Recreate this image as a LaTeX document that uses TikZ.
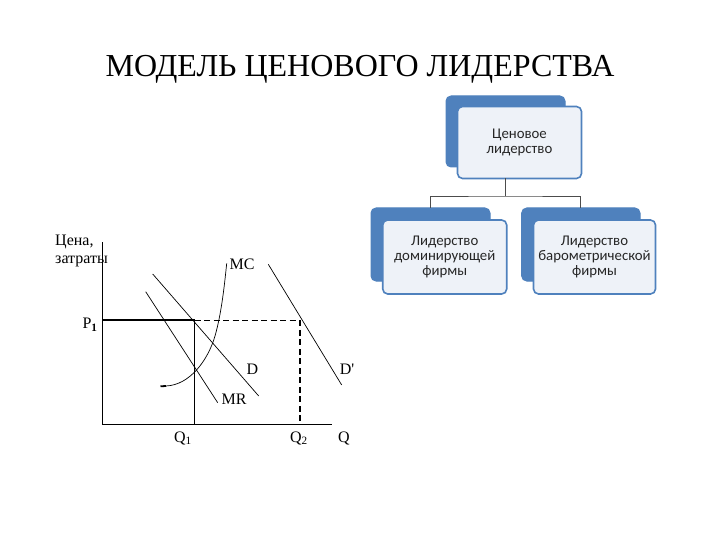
\documentclass[tikz,border=0pt]{standalone}
\usepackage{fontspec}
\setmainfont{Liberation Serif}
\newfontfamily\orgfont{Carlito}
\definecolor{accblue}{HTML}{4F81BD}
\definecolor{boxfill}{HTML}{EEF2F8}
\begin{document}
\begin{tikzpicture}[x=1pt,y=-1pt,
  backbox/.style={fill=accblue,draw=accblue,rounded corners=5pt,line width=1pt},
  frontbox/.style={fill=boxfill,draw=accblue,rounded corners=5pt,line width=1.6pt},
  orgtext/.style={font=\orgfont\fontsize{14.8}{15}\selectfont,align=center,text=black!85},
  lab/.style={font=\fontsize{16}{18}\selectfont,inner sep=0pt},
  conn/.style={draw=black!70,line width=0.8pt},
  thinline/.style={line width=0.7pt},
  dashline/.style={line width=1.3pt,dash pattern=on 6pt off 3.5pt},
]
\useasboundingbox (0,0) rectangle (720,540);
% title
\node[font=\fontsize{32}{36}\selectfont] (title) at (360,69) {МОДЕЛЬ ЦЕНОВОГО ЛИДЕРСТВА};

% org chart
\draw[backbox] (446,96) rectangle (565,167);
\node[frontbox,minimum width=124pt,minimum height=72pt] (top) at (519.5,142.5) {};
\node[orgtext] at (top) {Ценовое\\лидерство};
\coordinate (topc) at (505.5,178);

\draw[backbox] (371,208) rectangle (490,281);
\node[frontbox,minimum width=124pt,minimum height=74pt] (left) at (444.7,257) {};
\node[orgtext] at (left) {Лидерство\\доминирующей\\фирмы};
\coordinate (leftc) at (430.5,208);

\draw[backbox] (521.7,208) rectangle (640,281);
\node[frontbox,minimum width=122pt,minimum height=74pt] (right) at (594.5,257) {};
\node[orgtext] at (right) {Лидерство\\барометрической\\фирмы};
\coordinate (rightc) at (580.8,208);

\draw[conn] (topc) -- (505.5,196) coordinate (mid);
\draw[conn] (leftc) |- (mid) -| (rightc);

% graph
\coordinate (O) at (102.7,424.3);
\coordinate (ytop) at (102.7,242);
\coordinate (xend) at (331.7,424.3);
\draw[thinline] (ytop) -- (O) -- (xend);
\coordinate (P1) at (102.7,320.3);
\coordinate (E1) at (194.5,320.3);
\coordinate (E2) at (300,320.3);
\draw[line width=2pt] (P1) -- (E1);
\draw[dashline] (E1) -- (E2);
\draw[line width=1pt] (E1) -- (E1 |- O);
\draw[dashline] (E2) -- (E2 |- O);
% D
\draw[thinline] (152.7,274) -- (258.7,396);
% MR
\draw[thinline] (145.7,291.7) -- (217.7,402.7);
% D'
\draw[thinline] (268.3,264.3) -- (341.7,385);
% MC
\draw[line width=1.8pt] (160.5,386.3) -- (166,386);
\draw[thinline] (166,386) .. controls (190,385) and (208,360) .. (215,336)
  .. controls (221,315) and (224,290) .. (226.7,263.3);

% labels
\node[lab,anchor=west] (lc) at (55,242) {Цена,};
\node[lab,anchor=west] (lz) at (55,261) {затраты};
\node[lab] (lmc) at (242,264) {MC};
\node[lab] (ld) at (252.5,369) {D};
\node[lab] (ldp) at (347,369) {D\textquotesingle};
\node[lab] (lmr) at (234,399) {MR};
\node[lab] (lq1) at (183,438) {Q\textsubscript{1}};
\node[lab] (lq2) at (299,438) {Q\textsubscript{2}};
\node[lab] (lq) at (344,438) {Q};
\node[lab] (lp1) at (90,325) {P\textsubscript{\textbf{1}}};
\end{tikzpicture}
\end{document}
